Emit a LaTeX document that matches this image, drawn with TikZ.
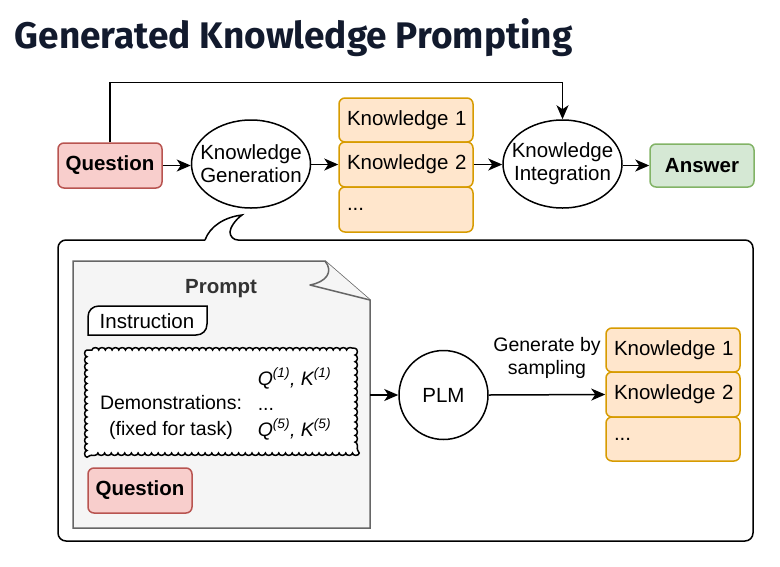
\documentclass[tikz,border=0pt]{standalone}
\usepackage{fontspec}
\setmainfont{Liberation Sans}
\newfontfamily\titlefont{Fira Sans}
\usetikzlibrary{arrows.meta,decorations.pathmorphing,shapes.geometric}
\definecolor{qfill}{HTML}{F8CECC}
\definecolor{qdraw}{HTML}{B85450}
\definecolor{kfill}{HTML}{FFE6CC}
\definecolor{kdraw}{HTML}{D79B00}
\definecolor{afill}{HTML}{D5E8D4}
\definecolor{adraw}{HTML}{82B366}
\definecolor{notefill}{HTML}{F5F5F5}
\definecolor{notedraw}{HTML}{666666}
\definecolor{titlecol}{HTML}{121A2D}
\definecolor{prompttxt}{HTML}{333333}
\tikzset{
  txt/.style={font=\fontsize{20.5}{23}\selectfont},
  qbox/.style={txt, draw=qdraw, fill=qfill, rounded corners=6pt, minimum width=104pt, minimum height=45pt, inner sep=0pt, font=\fontsize{20.5}{23}\selectfont\bfseries},
  abox/.style={qbox, draw=adraw, fill=afill, minimum height=43pt},
  kbox/.style={txt, draw=kdraw, fill=kfill, rounded corners=6pt, text width=124pt, align=left, inner xsep=5pt, inner ysep=0pt, minimum height=44pt},
  proc/.style={txt, draw, ellipse, minimum width=119pt, minimum height=88pt, inner sep=-12pt, align=center},
  arr/.style={-{Stealth[length=14pt,width=12pt,inset=4pt]}},
}
\begin{document}
\begin{tikzpicture}[x=1pt,y=-1pt,line width=1.5pt]
\useasboundingbox (0,0) rectangle (780,566);
\node[anchor=base west, text=titlecol, inner sep=0pt, font=\titlefont\fontsize{37}{40}\selectfont\bfseries] (title) at (14,48) {Generated Knowledge Prompting};

% top flow
\node[qbox] (q) at (110,165.5) {Question};
\node[proc] (kg) at (251,164) {Knowledge\\Generation};
\node[kbox] (k1) at (406,120) {\hspace*{3pt}Knowledge 1};
\node[kbox, minimum height=45pt] (k2) at (406,164.5) {\hspace*{3pt}Knowledge 2};
\node[kbox, minimum height=45pt] (k3) at (406,209.5) {\hspace*{3pt}...};
\node[proc] (ki) at (562.5,164) {Knowledge\\Integration};
\node[abox] (ans) at (702,165.5) {Answer};

\draw[arr] (q.east) -- (kg.west |- q.east);
\draw[arr] (kg.east |- k2.west) -- (k2.west);
\draw[arr] (k2.east) -- (ki.west |- k2.east);
\draw[arr] (ki.east |- ans.west) -- (ans.west);
\draw[arr] (q.north) -- ++(0,-60) -| (ki.north);

% callout box
\draw (205,240) [rounded corners=8pt] -| (58,541) -| (753,240) -- (230,240) [sharp corners]
  .. controls (230,228) and (235,220) .. (242,215)
  .. controls (225,217) and (210,226) .. (205,240);

% prompt note
\draw[draw=notedraw, fill=notefill] (73,261) -- (325,261) -- (370,300) -- (370,528) -- (73,528) -- cycle;
\draw[draw=notedraw, fill=notefill, line join=round] (325,261) .. controls (334,272) and (326,282) .. (310,285) -- (370,300);
\coordinate (noteE) at (370,395);
\node[txt, text=prompttxt, font=\fontsize{20.5}{23}\selectfont\bfseries] (ptitle) at (221,289) {Prompt};

% instruction
\draw[fill=white] (88,335) -- (88,317) .. controls (88,310.4) and (92.6,306) .. (99,306) -- (207,306) -- (207,324) .. controls (207,330.6) and (202.4,335) .. (196,335) -- cycle;
\node[txt] (instr) at (147,321) {Instruction};

% demonstrations
\draw[fill=white, decorate, decoration={bumps, mirror, segment length=13.4pt, amplitude=2.4pt}] (87,350) rectangle (355,453);
\node[align=center, font=\fontsize{19.5}{26}\selectfont] (demo) at (171,417) {Demonstrations:\\(fixed for task)};
\node[align=left, anchor=west, font=\fontsize{19.5}{26}\selectfont, inner sep=0pt] (qk) at (257,404)
  {\itshape Q\textsuperscript{(1)}, K\textsuperscript{(1)}\\[-1pt]...\\\itshape Q\textsuperscript{(5)}, K\textsuperscript{(5)}};

\node[qbox] (q2) at (140,490.5) {Question};

% PLM
\node[txt, draw, circle, minimum size=89pt, inner sep=0pt] (plm) at (443.5,395) {PLM};
\draw[arr] (noteE) -- (plm.west);

\node[kbox] (r1) at (673,350) {\hspace*{3pt}Knowledge 1};
\node[kbox, minimum height=45pt] (r2) at (673,394.5) {\hspace*{3pt}Knowledge 2};
\node[kbox] (r3) at (673,439) {\hspace*{3pt}...};
\draw[arr] (plm.east) -- (r2.west);
\node[txt, align=center, font=\fontsize{19.5}{23}\selectfont] (gen) at (547,358) {Generate by\\sampling};
\end{tikzpicture}
\end{document}
